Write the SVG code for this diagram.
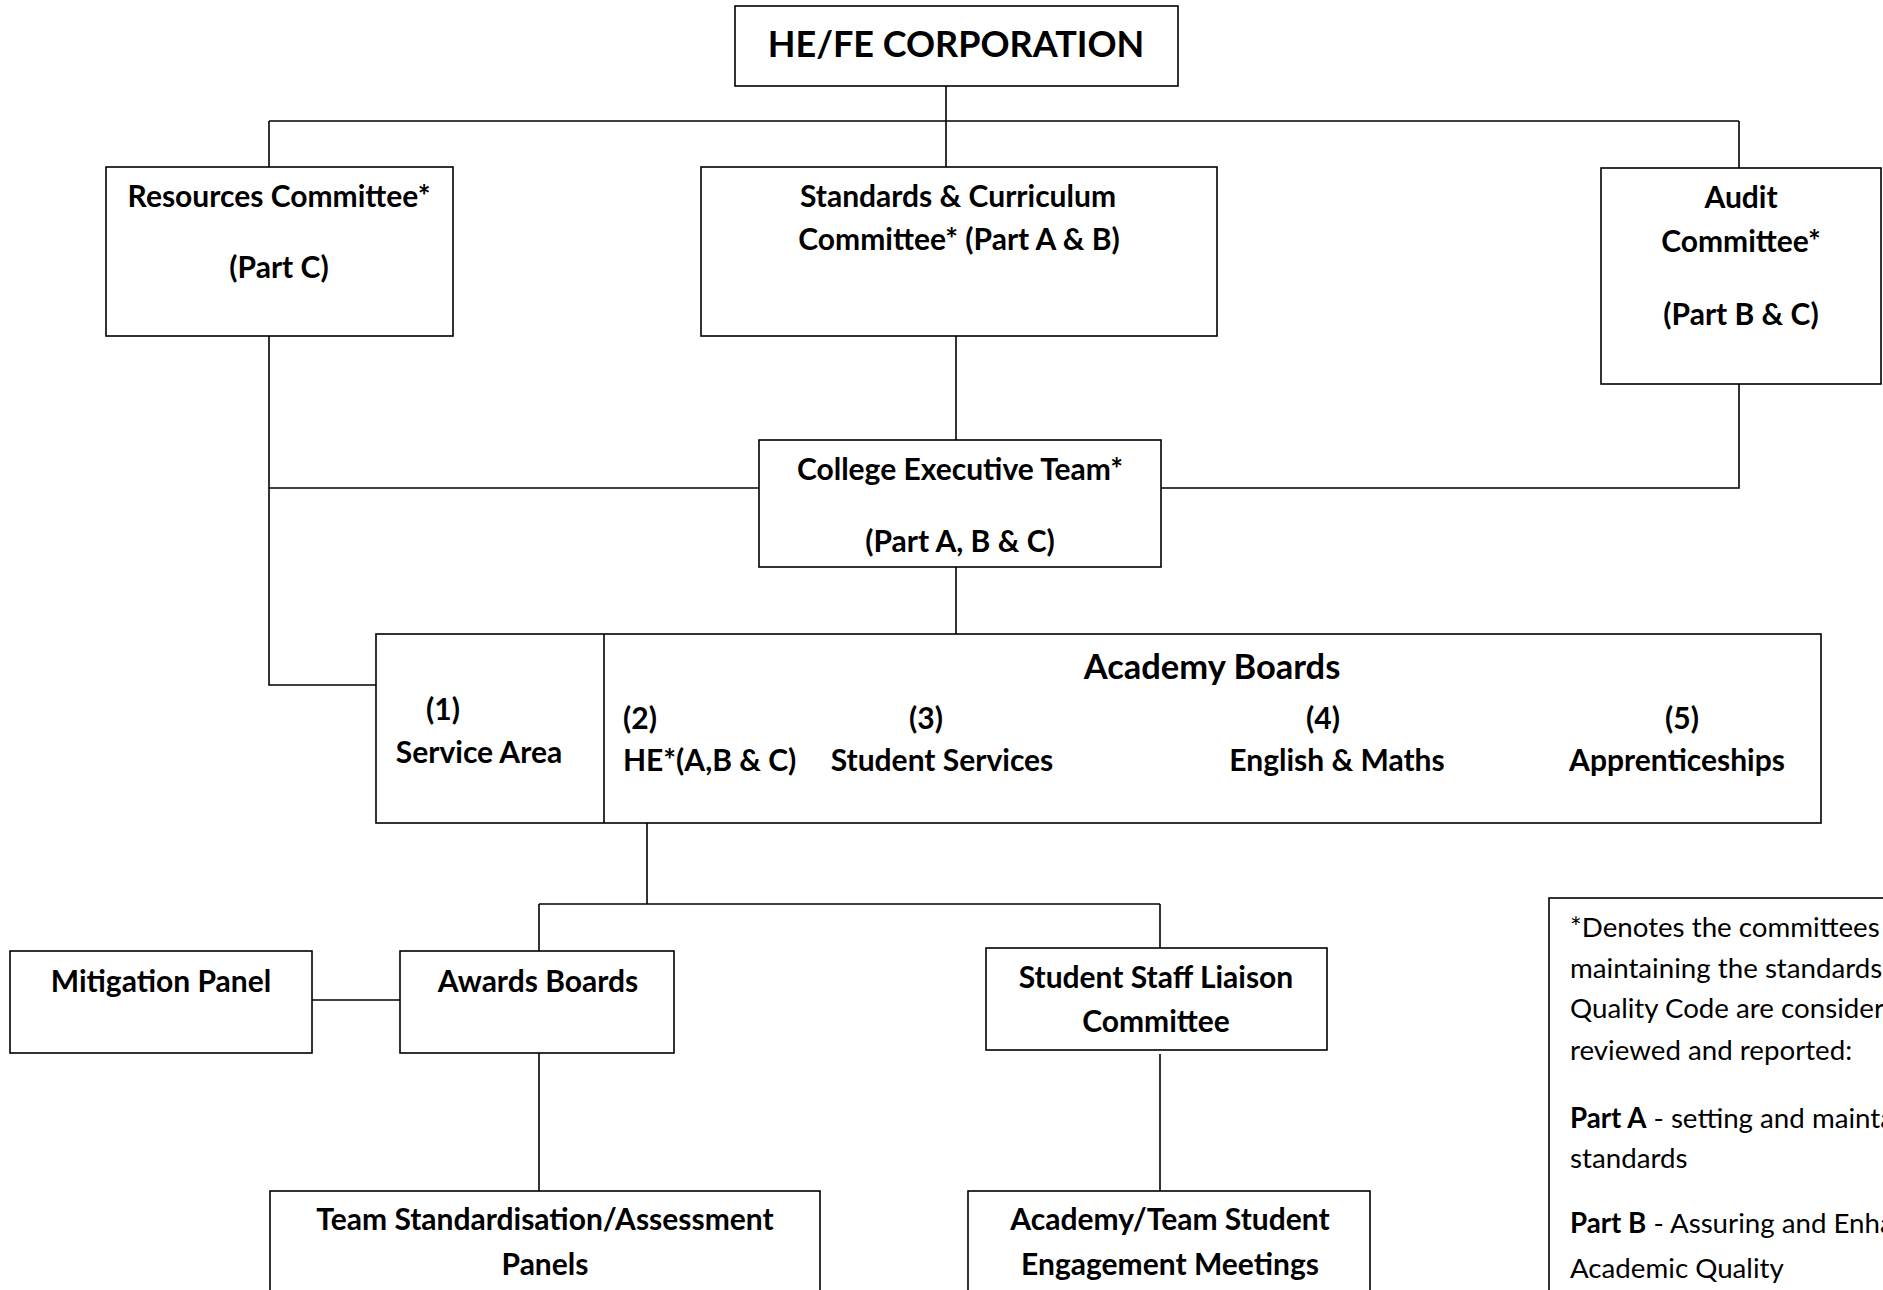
<svg xmlns="http://www.w3.org/2000/svg" width="1883" height="1290" viewBox="0 0 1883 1290">
<style>
.box{fill:#fff;stroke:#000;stroke-width:1.6}
.ln{fill:none;stroke:#000;stroke-width:1.6}
text{font-family:Lato,"Liberation Sans",sans-serif;fill:#000}
.b{font-weight:bold;font-size:30px}
.c{text-anchor:middle}
.r{font-size:27.7px;font-weight:normal}
</style>
<rect width="1883" height="1290" fill="#fff"/>
<g id="connectors">
<path class="ln" d="M946 86V167"/>
<path class="ln" d="M269 121H1739"/>
<path class="ln" d="M269 121V167"/>
<path class="ln" d="M1739 121V168"/>
<path class="ln" d="M269 336V685H376"/>
<path class="ln" d="M269 488H759"/>
<path class="ln" d="M956 336V440"/>
<path class="ln" d="M1739 384V488H1161"/>
<path class="ln" d="M956 567V634"/>
<path class="ln" d="M647 823V904"/>
<path class="ln" d="M539 904H1160"/>
<path class="ln" d="M539 904V951"/>
<path class="ln" d="M1160 904V948"/>
<path class="ln" d="M312 1000H400"/>
<path class="ln" d="M539 1053V1191"/>
<path class="ln" d="M1160 1054V1191"/>
</g>
<g id="corp">
<rect class="box" x="735" y="6" width="443" height="80"/>
<text class="b c" x="956" y="57" style="font-size:36px">HE/FE CORPORATION</text>
</g>
<g id="resources">
<rect class="box" x="106" y="167" width="347" height="169"/>
<text class="b c" x="279" y="207">Resources Committee*</text>
<text class="b c" x="279" y="278">(Part C)</text>
</g>
<g id="standards">
<rect class="box" x="701" y="167" width="516" height="169"/>
<text class="b c" x="958" y="207">Standards &amp; Curriculum</text>
<text class="b c" x="959" y="250">Committee* (Part A &amp; B)</text>
</g>
<g id="audit">
<rect class="box" x="1601" y="168" width="280" height="216"/>
<text class="b c" x="1741" y="208">Audit</text>
<text class="b c" x="1741" y="252">Committee*</text>
<text class="b c" x="1741" y="325">(Part B &amp; C)</text>
</g>
<g id="cet">
<rect class="box" x="759" y="440" width="402" height="127"/>
<text class="b c" x="960" y="480">College Executive Team*</text>
<text class="b c" x="960" y="552">(Part A, B &amp; C)</text>
</g>
<g id="academy">
<rect class="box" x="376" y="634" width="1445" height="189"/>
<path class="ln" d="M604 634V823"/>
<text class="b c" x="1212" y="679" style="font-size:34.5px">Academy Boards</text>
<text class="b c" x="443" y="720">(1)</text>
<text class="b c" x="479" y="763">Service Area</text>
<text class="b" x="623" y="729">(2)</text>
<text class="b" x="623" y="771">HE*(A,B &amp; C)</text>
<text class="b c" x="926" y="729">(3)</text>
<text class="b c" x="942" y="771">Student Services</text>
<text class="b c" x="1323" y="729">(4)</text>
<text class="b c" x="1337" y="771">English &amp; Maths</text>
<text class="b c" x="1682" y="729">(5)</text>
<text class="b c" x="1677" y="771">Apprenticeships</text>
</g>
<g id="mitigation">
<rect class="box" x="10" y="951" width="302" height="102"/>
<text class="b c" x="161" y="992">Mitigation Panel</text>
</g>
<g id="awards">
<rect class="box" x="400" y="951" width="274" height="102"/>
<text class="b c" x="538" y="992">Awards Boards</text>
</g>
<g id="sslc">
<rect class="box" x="986" y="948" width="341" height="102"/>
<text class="b c" x="1156" y="988">Student Staff Liaison</text>
<text class="b c" x="1156" y="1032">Committee</text>
</g>
<g id="team">
<rect class="box" x="270" y="1191" width="550" height="150"/>
<text class="b c" x="545" y="1230">Team Standardisation/Assessment</text>
<text class="b c" x="545" y="1275">Panels</text>
</g>
<g id="engagement">
<rect class="box" x="968" y="1191" width="402" height="150"/>
<text class="b c" x="1170" y="1230">Academy/Team Student</text>
<text class="b c" x="1170" y="1275">Engagement Meetings</text>
</g>
<g id="legend">
<rect class="box" x="1549" y="898" width="400" height="500"/>
<text class="r" x="1570" y="937">*Denotes the committees</text>
<text class="r" x="1570" y="978">maintaining the standards</text>
<text class="r" x="1570" y="1018">Quality Code are considere</text>
<text class="r" x="1570" y="1060">reviewed and reported:</text>
<text class="r" x="1570" y="1128"><tspan font-weight="bold">Part A</tspan> - setting and mainta</text>
<text class="r" x="1570" y="1168">standards</text>
<text class="r" x="1570" y="1233"><tspan font-weight="bold">Part B</tspan> - Assuring and Enha</text>
<text class="r" x="1570" y="1278">Academic Quality</text>
</g>
</svg>
